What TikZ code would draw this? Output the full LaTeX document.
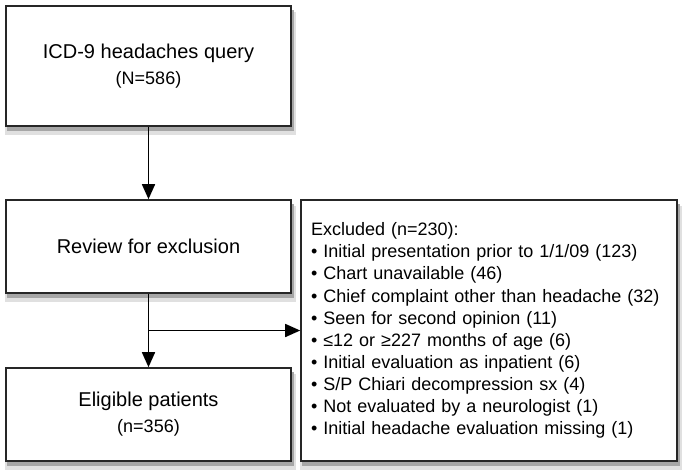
\documentclass[tikz,border=0pt]{standalone}
\usepackage{fontspec}
\setmainfont{Liberation Sans}
\usepackage{tikz}
\usetikzlibrary{positioning, shapes, arrows.meta}

\tikzset{
  flowbox/.style={draw=black!85, line width=1.6pt, fill=white, align=center,
    font=\fontsize{20}{26}\selectfont},
  flowline/.style={line width=1.6pt, -{Triangle[length=15pt, width=13pt]}},
  shadowfar/.style={fill=black!12},
  shadownear/.style={fill=black!35}
}

\begin{document}
\begin{tikzpicture}[x=1pt, y=-1pt]
\useasboundingbox (0,0) rectangle (684,475);
% shadows first, boxes on top
\fill[shadowfar] (5,12) rectangle (296,135);
\fill[shadownear] (7,10) rectangle (294,131);
\fill[shadowfar] (5,206) rectangle (296,302);
\fill[shadownear] (7,204) rectangle (294,298);
\fill[shadowfar] (5,374) rectangle (296,470);
\fill[shadownear] (7,372) rectangle (294,466);
\fill[shadowfar] (300,206) rectangle (682,470);
\fill[shadownear] (302,204) rectangle (680,466);
\node[flowbox, minimum width=285pt, minimum height=120pt] (query) at (148.5,66)
  {ICD-9 headaches query\\{\fontsize{18}{22}\selectfont (N=586)}};
\node[flowbox, minimum width=285pt, minimum height=93pt] (review) at (148.5,246.5)
  {Review for exclusion};
\node[flowbox, minimum width=285pt, minimum height=93pt] (eligible) at (148.5,414.5)
  {Eligible patients\\{\fontsize{18}{22}\selectfont (n=356)}};
\node[flowbox, minimum width=376pt, minimum height=261pt, text width=356pt, align=left,
  font=\fontsize{18}{22.1}\selectfont] (excluded) at (489,330.5)
  {Excluded (n=230):\\
  • Initial presentation prior to 1/1/09 (123)\\
  • Chart unavailable (46)\\
  • Chief complaint other than headache (32)\\
  • Seen for second opinion (11)\\
  • ≤12 or ≥227 months of age (6)\\
  • Initial evaluation as inpatient (6)\\
  • S/P Chiari decompression sx (4)\\
  • Not evaluated by a neurologist (1)\\
  • Initial headache evaluation missing (1)};
\coordinate (branch) at (review.south |- excluded.west);
\draw[flowline] (query) -- (review);
\draw[flowline] (review) -- (eligible);
\draw[flowline] (branch) -- (excluded.west);
\end{tikzpicture}
\end{document}
